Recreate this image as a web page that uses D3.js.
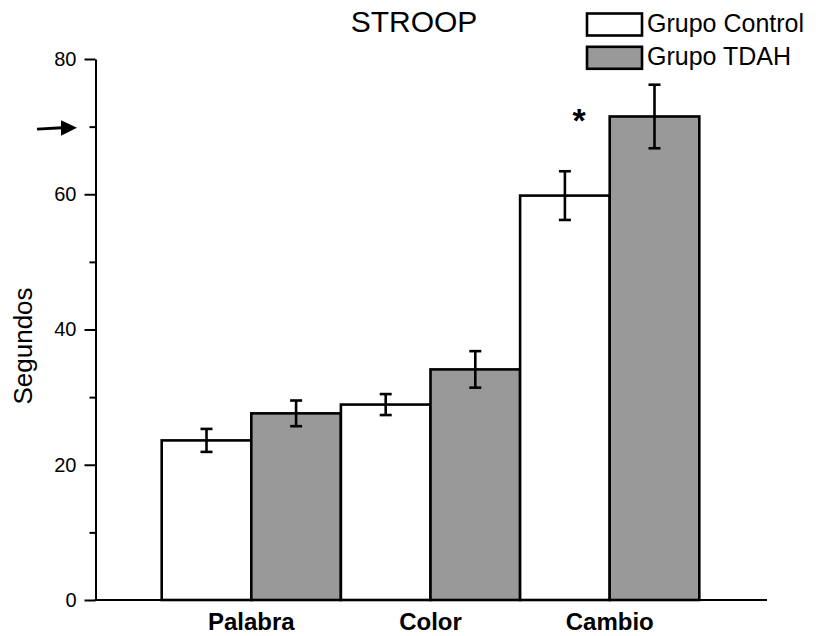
<!DOCTYPE html>
<html>
<head>
<meta charset="utf-8">
<script src="https://cdn.jsdelivr.net/npm/d3@7"></script>
<style>
  html, body { margin: 0; padding: 0; background: #fff; }
  svg { display: block; font-family: "Liberation Sans", Arial, sans-serif; }
</style>
</head>
<body>
<svg id="chart" width="820" height="636"></svg>
<script>
// ---- data ----
const categories = ["Palabra", "Color", "Cambio"];
const groups = ["Grupo Control", "Grupo TDAH"];
const controlValues = [23.6, 28.9, 59.8];
const controlErrors = [1.7, 1.55, 3.6];
const tdahValues = [27.6, 34.1, 71.5];
const tdahErrors = [1.9, 2.7, 4.7];
const yMajorTicks = [0, 20, 40, 60, 80];
const yMinorTicks = [10, 30, 50, 70];
const title = "STROOP";
const yLabel = "Segundos";
const significance = [{ category: "Cambio", mark: "*" }];
const arrowAt = 70;

const fills = ["#ffffff", "#999999"];

const data = categories.map((c, i) => ({
  category: c,
  values: [
    { group: groups[0], value: controlValues[i], err: controlErrors[i] },
    { group: groups[1], value: tdahValues[i], err: tdahErrors[i] }
  ]
}));

const svg = d3.select("#chart");

const y = d3.scaleLinear().domain([0, 80]).range([600, 59]);
const x = d3.scaleBand().domain(categories).range([161.7, 699.3]).paddingInner(0).paddingOuter(0);
const xSub = d3.scaleBand().domain(groups).range([0, x.bandwidth()]).padding(0);
const color = d3.scaleOrdinal().domain(groups).range(fills);

const axisLeftX = 95.5;
const axisRightX = 767;

// ---- bars ----
const g = svg.append("g");
const cat = g.selectAll("g.cat").data(data).join("g")
  .attr("class", "cat")
  .attr("transform", d => `translate(${x(d.category)},0)`);

cat.selectAll("rect").data(d => d.values).join("rect")
  .attr("x", d => xSub(d.group))
  .attr("y", d => y(d.value))
  .attr("width", xSub.bandwidth())
  .attr("height", d => y(0) - y(d.value))
  .attr("fill", d => color(d.group))
  .attr("stroke", "#000")
  .attr("stroke-width", 2.6);

// ---- error bars ----
const eb = cat.selectAll("g.err").data(d => d.values).join("g").attr("class", "err")
  .attr("transform", d => `translate(${xSub(d.group) + xSub.bandwidth() / 2},0)`);
eb.append("line")
  .attr("x1", 0).attr("x2", 0)
  .attr("y1", d => y(d.value + d.err)).attr("y2", d => y(d.value - d.err))
  .attr("stroke", "#000").attr("stroke-width", 2.6);
eb.append("line")
  .attr("x1", -6).attr("x2", 6)
  .attr("y1", d => y(d.value + d.err)).attr("y2", d => y(d.value + d.err))
  .attr("stroke", "#000").attr("stroke-width", 2.6);
eb.append("line")
  .attr("x1", -6).attr("x2", 6)
  .attr("y1", d => y(d.value - d.err)).attr("y2", d => y(d.value - d.err))
  .attr("stroke", "#000").attr("stroke-width", 2.6);

// ---- significance ----
significance.forEach(s => {
  const d = data.find(e => e.category === s.category);
  const v = d.values[1];
  svg.append("text")
    .attr("x", x(s.category) + xSub.bandwidth() * 0.66)
    .attr("y", y(v.value) + 16)
    .attr("text-anchor", "middle")
    .attr("font-size", 34)
    .attr("font-weight", "bold")
    .text(s.mark);
});

// ---- y axis ----
const yAxis = d3.axisLeft(y).tickValues(yMajorTicks).tickSize(11).tickSizeOuter(0).tickPadding(8)
  .tickFormat(d3.format("d"));
const yg = svg.append("g").attr("transform", `translate(${axisLeftX},0)`).call(yAxis);
yg.select(".domain").attr("stroke-width", 2);
yg.selectAll(".tick line").attr("stroke-width", 2);
yg.selectAll(".tick text").attr("font-size", 20).attr("font-family", "Liberation Sans, Arial, sans-serif").attr("fill", "#000");

const yMinor = d3.axisLeft(y).tickValues(yMinorTicks).tickSize(6).tickSizeOuter(0).tickFormat("");
const ymg = svg.append("g").attr("transform", `translate(${axisLeftX},0)`).call(yMinor);
ymg.select(".domain").remove();
ymg.selectAll(".tick line").attr("stroke-width", 2);

// ---- x axis ----
svg.append("line")
  .attr("x1", axisLeftX - 1).attr("x2", axisRightX)
  .attr("y1", y(0)).attr("y2", y(0))
  .attr("stroke", "#000").attr("stroke-width", 2);

const xAxis = d3.axisBottom(x).tickSize(0).tickPadding(0);
const xg = svg.append("g").attr("transform", `translate(0,${y(0)})`).call(xAxis);
xg.select(".domain").remove();
xg.selectAll(".tick text")
  .attr("y", 30).attr("dy", 0)
  .attr("font-size", 24).attr("font-weight", "bold")
  .attr("font-family", "Liberation Sans, Arial, sans-serif").attr("fill", "#000");

// ---- title ----
svg.append("text")
  .attr("x", 414).attr("y", 32)
  .attr("text-anchor", "middle")
  .attr("font-size", 30)
  .text(title);

// ---- y label ----
svg.append("text")
  .attr("transform", `translate(32,346) rotate(-90)`)
  .attr("text-anchor", "middle")
  .attr("font-size", 26)
  .text(yLabel);

// ---- arrow ----
const ay = y(arrowAt) + 1.5;
svg.append("path")
  .attr("d", `M37,${ay + 1} L62,${ay - 0.3}`)
  .attr("stroke", "#000").attr("stroke-width", 3).attr("fill", "none");
svg.append("path")
  .attr("d", `M61,${ay - 8} L77,${ay - 0.5} L61,${ay + 7.5} Z`)
  .attr("fill", "#000");

// ---- legend ----
const legend = svg.append("g");
groups.forEach((gr, i) => {
  const top = 13.5 + i * 33.3;
  legend.append("rect")
    .attr("x", 587).attr("y", top)
    .attr("width", 55).attr("height", 22)
    .attr("fill", color(gr)).attr("stroke", "#000").attr("stroke-width", 2.6);
  legend.append("text")
    .attr("x", 647).attr("y", top + 18.5)
    .attr("font-size", 25)
    .text(gr);
});
</script>
</body>
</html>
